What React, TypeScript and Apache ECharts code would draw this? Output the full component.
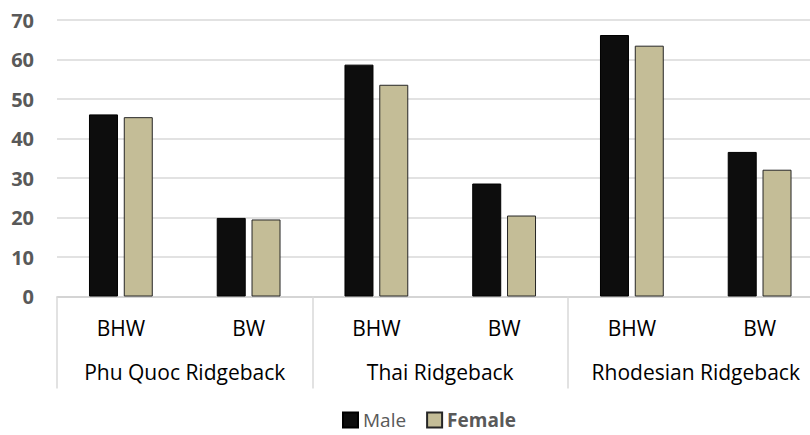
import React, { useEffect, useRef } from "react";
import * as echarts from "echarts";

const subCategories = ["BHW", "BW", "BHW", "BW", "BHW", "BW"];
const groups = ["Phu Quoc Ridgeback", "Thai Ridgeback", "Rhodesian Ridgeback"];
const maleValues = [46.1, 19.9, 58.7, 28.6, 66.2, 36.6];
const femaleValues = [45.4, 19.5, 53.6, 20.5, 63.5, 32.1];
const yTicks = { min: 0, max: 70, interval: 10 };

const FONT = "Open Sans";

export default function App() {
  const ref = useRef<HTMLDivElement>(null);
  useEffect(() => {
    document.body.style.margin = "0";
    const chart = echarts.init(ref.current!, null, { renderer: "svg" });
    chart.setOption({
      animation: false,
      textStyle: { fontFamily: FONT },
      grid: {
        left: 57,
        top: 20,
        width: 766.5,
        height: 276.5,
        containLabel: false,
        outerBoundsMode: "none",
      },
      legend: {
        left: 337,
        top: 405,
        itemWidth: 15,
        itemHeight: 15,
        itemGap: 20,
        icon: "rect",
        textStyle: { fontFamily: FONT, fontSize: 19, color: "#595959", lineHeight: 20 },
        data: [
          { name: "Male", textStyle: { fontWeight: "normal" } },
          { name: "Female", textStyle: { fontWeight: "bold" } },
        ],
      },
      xAxis: [
        {
          type: "category",
          data: subCategories,
          position: "bottom",
          axisLine: { show: true, lineStyle: { color: "#d0d0d0", width: 1.5 } },
          axisTick: { show: false },
          axisLabel: { interval: 0, margin: 21, color: "#000", fontSize: 21, fontFamily: FONT },
        },
        {
          type: "category",
          data: groups,
          position: "bottom",
          axisLine: { show: false },
          axisTick: { show: true, length: 92, interval: 0, lineStyle: { color: "#d9d9d9", width: 1.5 } },
          axisLabel: { interval: 0, margin: 65, color: "#000", fontSize: 21, fontFamily: FONT },
          splitLine: { show: false },
        },
      ],
      yAxis: {
        type: "value",
        min: yTicks.min,
        max: yTicks.max,
        interval: yTicks.interval,
        axisLine: { show: false },
        axisTick: { show: false },
        splitLine: { lineStyle: { color: "#d9d9d9", width: 1.5 } },
        axisLabel: { margin: 23, color: "#595959", fontWeight: "bold", fontSize: 20, fontFamily: FONT },
      },
      series: [
        {
          name: "Male",
          type: "bar",
          xAxisIndex: 0,
          data: maleValues,
          barWidth: 29,
          barGap: "20%",
          itemStyle: { color: "#0d0d0d", borderColor: "#000", borderWidth: 1 },
        },
        {
          name: "Female",
          type: "bar",
          xAxisIndex: 0,
          data: femaleValues,
          barWidth: 29,
          barGap: "20%",
          itemStyle: { color: "#c4bd97", borderColor: "#262626", borderWidth: 1 },
        },
      ],
    });
    return () => chart.dispose();
  }, []);
  return <div ref={ref} style={{ width: 810, height: 435 }} />;
}
